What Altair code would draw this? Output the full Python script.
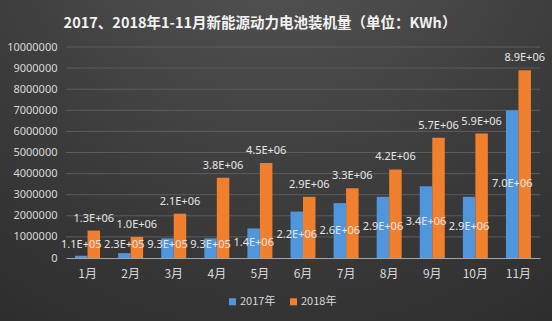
import altair as alt
import pandas as pd

months = ["1月", "2月", "3月", "4月", "5月", "6月", "7月", "8月", "9月", "10月", "11月"]
series = ["2017年", "2018年"]
v2017 = [110000, 230000, 930000, 930000, 1400000, 2200000, 2600000, 2900000, 3400000, 2900000, 7000000]
v2018 = [1300000, 1000000, 2100000, 3800000, 4500000, 2900000, 3300000, 4200000, 5700000, 5900000, 8900000]
y_ticks = [0, 1000000, 2000000, 3000000, 4000000, 5000000, 6000000, 7000000, 8000000, 9000000, 10000000]

rows = []
for m, a, b in zip(months, v2017, v2018):
    rows.append({"month": m, "year": series[0], "value": a, "label": f"{a:.1E}"})
    rows.append({"month": m, "year": series[1], "value": b, "label": f"{b:.1E}"})
df = pd.DataFrame(rows)
grid_df = pd.DataFrame({"tick": y_ticks[1:]})

W, H = 474, 211
PL, PT, PR, PB = 66, 47, 12, 63

yscale = alt.Scale(domain=[0, 10000000])
xscale = alt.Scale(paddingInner=0.42, paddingOuter=0.21)

yaxis = alt.Axis(values=y_ticks, format="d", labelColor="#d9d9d9", labelFontSize=11,
                 labelFont="Noto Sans", labelPadding=9, ticks=False, domain=False,
                 grid=False, zindex=1, labelOverlap=False, title=None)
xaxis = alt.Axis(labelAngle=0, labelColor="#d9d9d9", labelFontSize=12,
                 labelFont="Noto Sans CJK SC", labelPadding=10, zindex=1,
                 domainColor="#a6a6a6", domainWidth=1, ticks=False, grid=False, title=None)

bg = alt.Chart(pd.DataFrame({"a": [0]})).mark_rect(
    color={"gradient": "radial", "x1": 0.5, "y1": 0.0, "r1": 0.0,
           "x2": 0.5, "y2": 0.0, "r2": 1.0,
           "stops": [{"offset": 0, "color": "#595959"},
                     {"offset": 0.6, "color": "#3b3b3b"},
                     {"offset": 1, "color": "#2b2b2b"}]},
    clip=False,
).encode(
    x=alt.value(-PL), x2=alt.value(W + PR), y=alt.value(-PT), y2=alt.value(H + PB)
)

grid = alt.Chart(grid_df).mark_rule(color="#5c5c5c", strokeWidth=1).encode(
    y=alt.Y("tick:Q", scale=yscale, axis=yaxis), x=alt.value(0), x2=alt.value(W)
)

base = alt.Chart(df)

bars = base.mark_bar().encode(
    x=alt.X("month:N", sort=months, scale=xscale, axis=xaxis),
    xOffset=alt.XOffset("year:N", sort=series),
    y=alt.Y("value:Q", scale=yscale, axis=yaxis),
    color=alt.Color("year:N", sort=series,
                    scale=alt.Scale(domain=series, range=["#4f96dd", "#f07f2e"]),
                    legend=alt.Legend(title=None, orient="none", direction="horizontal",
                                      legendX=161, legendY=249, symbolType="square",
                                      symbolSize=50, symbolStrokeWidth=0,
                                      labelColor="#d9d9d9", labelFontSize=11,
                                      labelFont="Noto Sans CJK SC", columnPadding=12,
                                      symbolOffset=0, labelOffset=2, zindex=1)),
)

lab18 = base.transform_filter(alt.datum.year == series[1]).mark_text(
    color="#e6e6e6", fontSize=11, font="Noto Sans", baseline="middle", dy=-12
).encode(
    x=alt.X("month:N", sort=months, scale=xscale, axis=xaxis),
    xOffset=alt.XOffset("year:N", sort=series),
    y=alt.Y("value:Q", scale=yscale, axis=yaxis),
    text="label:N",
)

lab17 = base.transform_filter(alt.datum.year == series[0]).transform_calculate(
    pos="max(datum.value / 2, 600000)"
).mark_text(
    color="#e6e6e6", fontSize=11, font="Noto Sans", baseline="middle"
).encode(
    x=alt.X("month:N", sort=months, scale=xscale, axis=xaxis),
    xOffset=alt.XOffset("year:N", sort=series),
    y=alt.Y("pos:Q", scale=yscale, axis=yaxis),
    text="label:N",
)

chart = alt.layer(bg, grid, bars, lab18, lab17).properties(
    width=W, height=H,
    autosize=alt.AutoSizeParams(type="none"),
    padding={"left": PL, "top": PT, "right": PR, "bottom": PB},
    background="#2e2e2e",
    title=alt.TitleParams("2017、2018年1-11月新能源动力电池装机量（单位：KWh）",
                          color="#f2f2f2", fontSize=14.5, fontWeight="bold",
                          font="Noto Sans CJK SC", anchor="middle", offset=18, dx=-43,
                          dy=49, zindex=1),
).configure_view(stroke=None)

chart.save("out.html", embed_options={"renderer": "svg", "actions": False})
